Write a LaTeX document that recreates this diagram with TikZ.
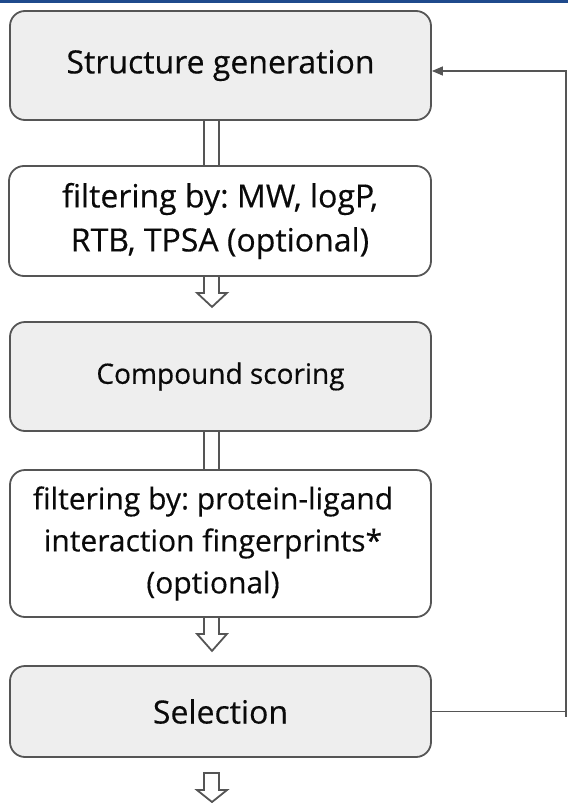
\documentclass[tikz,border=0pt]{standalone}
\usepackage{fontspec}
\setmainfont{Open Sans}[FakeBold=0.4]
\frenchspacing
\usetikzlibrary{arrows.meta,calc}
\definecolor{edgegray}{HTML}{555555}
\definecolor{boxgray}{HTML}{EEEEEE}
\definecolor{topbar}{HTML}{1F4A8C}
\definecolor{ink}{HTML}{0A0A0A}

\newcommand\heavytext{\addfontfeature{FakeBold=0.35}}

\tikzset{
  stagebox/.style={draw=edgegray, line width=1.8pt, rounded corners=15pt,
    fill=boxgray, text=ink, align=center, inner sep=0pt,
    font=\fontsize{32}{44}\selectfont\heavytext},
  filterbox/.style={stagebox, fill=white},
  flowline/.style={draw=edgegray, line width=1.8pt},
}

\begin{document}
\begin{tikzpicture}[x=1pt,y=-1pt]
\useasboundingbox (0,0) rectangle (568,803);
\fill[topbar] (0,0) rectangle (568,2.5);

% stages of the workflow
\node[stagebox, minimum width=421pt, minimum height=109pt] (gen) at (220.5,65.5) {Structure generation};
\node[filterbox, minimum width=422pt, minimum height=110pt] (f1) at (220,221) {filtering by: MW, logP,\\RTB, TPSA (optional)};
\node[stagebox, minimum width=421pt, minimum height=109pt, font=\fontsize{28}{40}\selectfont\heavytext] (score) at (220.5,376.5) {Compound scoring};
\node[filterbox, minimum width=421pt, minimum height=147pt] (f2) at (220.5,543.5) {};
\node[text=ink, align=center, font=\fontsize{30}{42}\selectfont\heavytext] (f2text) at (213,543.5) {filtering by: protein-ligand\\interaction fingerprints*\\(optional)};
\node[stagebox, minimum width=421pt, minimum height=91pt] (sel) at (220.5,711.5) {Selection};

% axis of the vertical connectors
\coordinate (axL) at (204,0);
\coordinate (axR) at (219,0);

% open pipes
\draw[flowline] (gen.south -| axL) -- (f1.north -| axL);
\draw[flowline] (gen.south -| axR) -- (f1.north -| axR);
\draw[flowline] (score.south -| axL) -- (f2.north -| axL);
\draw[flowline] (score.south -| axR) -- (f2.north -| axR);

% hollow block arrows
\draw[flowline, line join=miter] (f1.south -| axL) -- ++(0,16) -- ++(-7,0) -- ++(15,14) -- ++(15,-14) -- ++(-8,0) -- (f1.south -| axR);
\draw[flowline, line join=miter] (f2.south -| axL) -- ++(0,16) -- ++(-7,0) -- ++(15,17) -- ++(15,-17) -- ++(-8,0) -- (f2.south -| axR);
\coordinate (outTop) at (204,773);
\draw[flowline, line join=miter] (outTop) -- ++(0,17) -- ++(-7,0) -- ++(15,12) -- ++(15,-12) -- ++(-8,0) -- ++(0,-17) -- cycle;

% feedback loop
\coordinate (loopTop) at (566,71);
\draw[flowline, line width=1.5pt, -{Triangle[length=11pt,width=9pt]}] (sel.east) -| (loopTop) -- (loopTop -| gen.east);
\draw[flowline, line width=1.5pt] (sel.east -| loopTop) -- ++(0,5);
\end{tikzpicture}
\end{document}
